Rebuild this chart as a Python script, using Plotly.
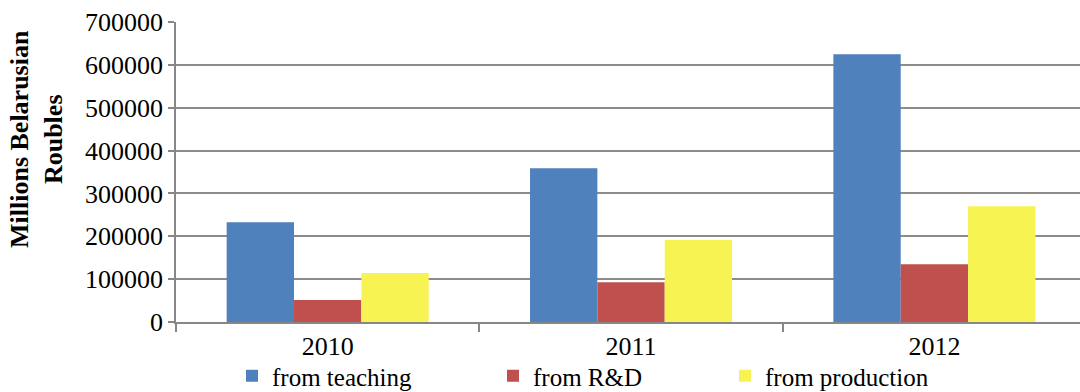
import plotly.graph_objects as go

years = ["2010", "2011", "2012"]
from_teaching = [232600, 358600, 624600]
from_rd = [51500, 92600, 134600]
from_production = [114300, 191300, 269900]
series_names = ["from teaching", "from R&D", "from production"]
y_ticks = [0, 100000, 200000, 300000, 400000, 500000, 600000, 700000]
y_title = "Millions Belarusian<br>Roubles"

colors = ["#4F81BD", "#C0504D", "#F7F352"]
font_family = "Liberation Serif"

fig = go.Figure()
for i, (name, vals) in enumerate(zip(series_names, [from_teaching, from_rd, from_production])):
    fig.add_trace(go.Bar(
        x=years, y=vals, name=name,
        marker=dict(color=colors[i], line=dict(width=0)),
        legend="legend" if i == 0 else f"legend{i+1}",
    ))

L, R, T, B = 176, 0, 22, 70
W, H = 1080, 392
pw = W - L - R
ph = H - T - B

def px_x(p):
    return (p - L) / pw

def px_y(p):
    return (H - B - p) / ph

leg_common = dict(
    orientation="h", yanchor="middle", xanchor="left",
    font=dict(family=font_family, size=25, color="#000"),
    bgcolor="rgba(0,0,0,0)", borderwidth=0, itemwidth=30,
)

fig.update_layout(
    width=W, height=H,
    margin=dict(l=L, r=R, t=T, b=B, pad=0, autoexpand=False),
    paper_bgcolor="white", plot_bgcolor="white",
    barmode="group", bargap=0.334, bargroupgap=0,
    font=dict(family=font_family, size=26, color="#000"),
    showlegend=True,
    legend=dict(x=px_x(232), y=px_y(376), **leg_common),
    legend2=dict(x=px_x(493), y=px_y(376), **leg_common),
    legend3=dict(x=px_x(725), y=px_y(376), **leg_common),
    xaxis=dict(
        type="category", range=[-0.5, 2.48], automargin=False,
        showline=True, linecolor="#878787", linewidth=1.5,
        ticks="outside", tickson="boundaries", ticklen=8, tickcolor="#878787", tickwidth=1.5,
        tickfont=dict(family=font_family, size=26, color="#000"),
        showgrid=False,
    ),
    yaxis=dict(
        range=[0, 700000], tickvals=y_ticks, ticktext=[str(v) for v in y_ticks],
        automargin=False,
        showline=True, linecolor="#878787", linewidth=1.5,
        ticks="outside", ticklen=6, tickcolor="#878787", tickwidth=1.5,
        showgrid=True, gridcolor="#8C8C8C", gridwidth=1.5,
        zeroline=False,
        tickfont=dict(family=font_family, size=26, color="#000"),
    ),
    annotations=[dict(
        text=f"<b>{y_title}</b>", textangle=-90,
        xref="paper", yref="paper", x=px_x(36), y=px_y(139),
        xanchor="center", yanchor="middle", showarrow=False,
        font=dict(family=font_family, size=26, color="#000"),
    )],
)

fig.write_html("out.html")
